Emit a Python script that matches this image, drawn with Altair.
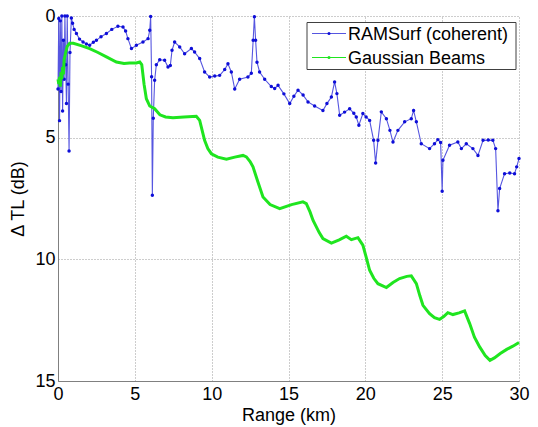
import altair as alt
import pandas as pd

# RAMSurf (coherent) transmission-loss difference vs range
ram_range = [0.00, 0.05, 0.10, 0.15, 0.20, 0.25, 0.30, 0.35, 0.40, 0.45, 0.50, 0.55, 0.60, 0.66,
             0.72, 0.78, 0.87, 0.95, 1.05, 1.20, 1.40, 1.63, 1.85, 2.06, 2.30, 2.50, 2.80, 3.15,
             3.50, 3.90, 4.23, 4.40, 4.55, 4.78, 5.10, 5.53, 5.86, 5.97, 6.03, 6.09, 6.14, 6.20,
             6.29, 6.40, 6.62, 6.94, 7.16, 7.31, 7.42, 7.59, 7.92, 8.24, 8.68, 8.89, 9.22, 9.54,
             9.87, 10.20, 10.52, 10.85, 11.06, 11.28, 11.50, 11.82, 12.36, 12.58, 12.70, 12.78,
             12.86, 12.95, 13.12, 13.45, 13.88, 14.10, 14.32, 14.70, 15.08, 15.35, 15.62, 15.95,
             16.27, 16.70, 17.24, 17.50, 17.79, 18.00, 18.15, 18.33, 18.65, 18.98, 19.25, 19.41,
             19.58, 19.84, 20.05, 20.28, 20.54, 20.67, 20.82, 21.04, 21.37, 21.60, 21.80, 22.12,
             22.56, 22.99, 23.14, 23.32, 23.64, 24.18, 24.50, 24.72, 24.90, 25.00, 25.05, 25.48,
             26.02, 26.25, 26.57, 27.00, 27.33, 27.66, 28.00, 28.30, 28.48, 28.63, 28.74, 29.06,
             29.40, 29.71, 29.85, 30.00]
ram_dtl = [3.0, 0.1, 4.3, 0.2, 3.1, 0.0, 3.9, 1.0, 2.6, 0.0, 2.0, 3.6, 0.0, 2.8,
           5.55, 1.5, 0.08, 0.3, 0.55, 0.72, 0.95, 1.07, 1.15, 1.2, 1.08, 1.0, 0.85, 0.72,
           0.55, 0.42, 0.45, 0.62, 0.93, 1.34, 1.2, 1.07, 0.93, 0.59, 0.02, 2.5, 7.37, 4.2,
           2.64, 2.0, 1.8, 1.82, 2.1, 2.03, 1.41, 1.07, 1.27, 1.55, 1.34, 1.48, 1.75, 2.3,
           2.51, 2.47, 2.44, 2.2, 1.96, 2.3, 3.0, 2.6, 2.51, 2.35, 1.0, 0.03,
           1.0, 1.9, 2.3, 2.6, 2.9, 2.98, 2.85, 3.2, 3.6, 3.3, 3.05, 3.25,
           3.53, 3.7, 3.88, 3.6, 3.33, 2.71, 3.19, 4.08, 3.95, 3.81, 4.0, 4.15,
           4.49, 4.01, 4.15, 4.29, 5.11, 6.04, 5.11, 3.94, 4.22, 4.7, 5.18, 4.7,
           4.35, 4.22, 3.88, 4.35, 5.25, 5.45, 5.25, 5.08, 5.2, 7.2, 5.93, 5.31,
           5.18, 5.45, 5.25, 5.45, 5.73, 5.11, 5.1, 5.11, 5.45, 8.0, 7.09, 6.48,
           6.45, 6.48, 6.2, 5.86]

# Gaussian Beams transmission-loss difference vs range
gb_range = [0.00, 0.05, 0.10, 0.15, 0.20, 0.25, 0.30, 0.35, 0.40, 0.50, 0.60, 0.76, 1.00, 1.50,
            2.06, 2.60, 3.15, 3.80, 4.30, 4.66, 5.10, 5.32, 5.45, 5.60, 5.75, 5.97, 6.29, 6.63,
            7.00, 7.48, 8.20, 9.00, 9.22, 9.40, 9.54, 9.75, 9.98, 10.40, 10.96, 11.50, 12.04,
            12.26, 12.50, 12.69, 13.00, 13.34, 13.80, 14.43, 15.20, 15.94, 16.16, 16.40, 16.60,
            17.00, 17.24, 17.79, 18.30, 18.76, 19.09, 19.52, 19.84, 20.05, 20.28, 20.55, 20.82,
            21.37, 21.80, 22.23, 22.70, 22.99, 23.32, 23.55, 23.75, 24.18, 24.50, 24.83, 25.10,
            25.37, 25.70, 26.10, 26.46, 26.79, 27.10, 27.44, 27.80, 28.11, 28.40, 28.78, 29.20,
            29.60, 30.00]
gb_dtl = [2.6, 2.8, 2.5, 2.9, 2.3, 2.6, 2.1, 2.4, 1.8, 1.5, 1.25, 1.12, 1.12, 1.22,
          1.34, 1.5, 1.68, 1.89, 1.95, 1.93, 1.93, 1.89, 2.0, 2.8, 3.4, 3.7, 3.81, 4.06,
          4.15, 4.18, 4.15, 4.12, 4.29, 4.75, 5.11, 5.45, 5.66, 5.8, 5.89, 5.8, 5.73,
          5.79, 5.98, 6.2, 6.8, 7.44, 7.75, 7.92, 7.75, 7.64, 7.71, 8.05, 8.4,
          8.9, 9.15, 9.33, 9.2, 9.05, 9.19, 9.11, 9.42, 9.9, 10.45, 10.78, 11.0,
          11.16, 10.95, 10.79, 10.7, 10.68, 11.0, 11.5, 11.89, 12.23, 12.4, 12.47, 12.35,
          12.19, 12.27, 12.2, 12.12, 12.64, 13.2, 13.6, 13.95, 14.15, 14.05, 13.87, 13.7,
          13.57, 13.42]

legend_labels = ["RAMSurf (coherent)", "Gaussian Beams"]
x_ticks = [0, 5, 10, 15, 20, 25, 30]
y_ticks = [0, 5, 10, 15]

FONT = "Liberation Sans"
BLUE_LINE = "#5656e0"
BLUE_DOT = "#0e0ed8"
GREEN = "#1fe51f"
AXIS_GRAY = "#808080"
GRID_GRAY = "#9a9a9a"

ram = pd.DataFrame({"range": ram_range, "dtl": ram_dtl})
gb = pd.DataFrame({"range": gb_range, "dtl": gb_dtl})

common_axis = dict(
    grid=True, gridColor=GRID_GRAY, gridDash=[1, 2], gridWidth=1, gridOpacity=1,
    domain=True, domainColor=AXIS_GRAY, domainWidth=1, domainOpacity=1,
    ticks=False, labelFlush=False, labelOverlap=False,
    labelFont=FONT, labelFontSize=18, labelColor="black",
    titleFont=FONT, titleFontSize=18, titleFontWeight="normal", titleColor="black",
)

x_enc = alt.X(
    "range:Q",
    scale=alt.Scale(domain=[0, 30], nice=False, zero=False),
    axis=alt.Axis(values=x_ticks, title="Range (km)", labelPadding=4, titlePadding=3,
                  **common_axis),
)
y_enc = alt.Y(
    "dtl:Q",
    scale=alt.Scale(domain=[0, 15], nice=False, reverse=True),
    axis=alt.Axis(values=y_ticks, title="Δ TL (dB)", labelPadding=3, titlePadding=7,
                  **common_axis),
)

ram_line = alt.Chart(ram).mark_line(color=BLUE_LINE, strokeWidth=1.1).encode(x=x_enc, y=y_enc)
ram_pts = alt.Chart(ram).mark_point(filled=True, size=12, color=BLUE_DOT, opacity=1).encode(
    x="range:Q", y="dtl:Q")
gb_line = alt.Chart(gb).mark_line(color=GREEN, strokeWidth=3).encode(x="range:Q", y="dtl:Q")

# legend box drawn in the upper-right corner of the plot
one = pd.DataFrame({"k": [0]})
box = alt.Chart(one).mark_rect(fill="white", stroke="#404040", strokeWidth=1).encode(
    x=alt.value(249), x2=alt.value(458), y=alt.value(6.5), y2=alt.value(53.5))

row_y = [17.5, 41.5]
leg_layers = []
for i, (lab, lc, dc) in enumerate(zip(legend_labels, [BLUE_LINE, GREEN], [BLUE_DOT, GREEN])):
    leg_layers.append(alt.Chart(one).mark_rule(color=lc, strokeWidth=1).encode(
        x=alt.value(254), x2=alt.value(288), y=alt.value(row_y[i])))
    leg_layers.append(alt.Chart(one).mark_point(filled=True, size=9, color=dc, opacity=1).encode(
        x=alt.value(271), y=alt.value(row_y[i])))
    leg_layers.append(alt.Chart(one).mark_text(
        text=lab, align="left", baseline="middle", font=FONT, fontSize=18, color="black").encode(
        x=alt.value(290), y=alt.value(row_y[i] + 1.5)))

chart = alt.layer(ram_line, ram_pts, gb_line, box, *leg_layers).properties(
    width=461, height=365,
    autosize=alt.AutoSizeParams(type="none"),
    padding={"left": 58, "top": 16, "right": 19, "bottom": 46},
    background="white",
).configure_view(stroke=None)

chart.save("out.html", embed_options={"renderer": "svg", "actions": False})
